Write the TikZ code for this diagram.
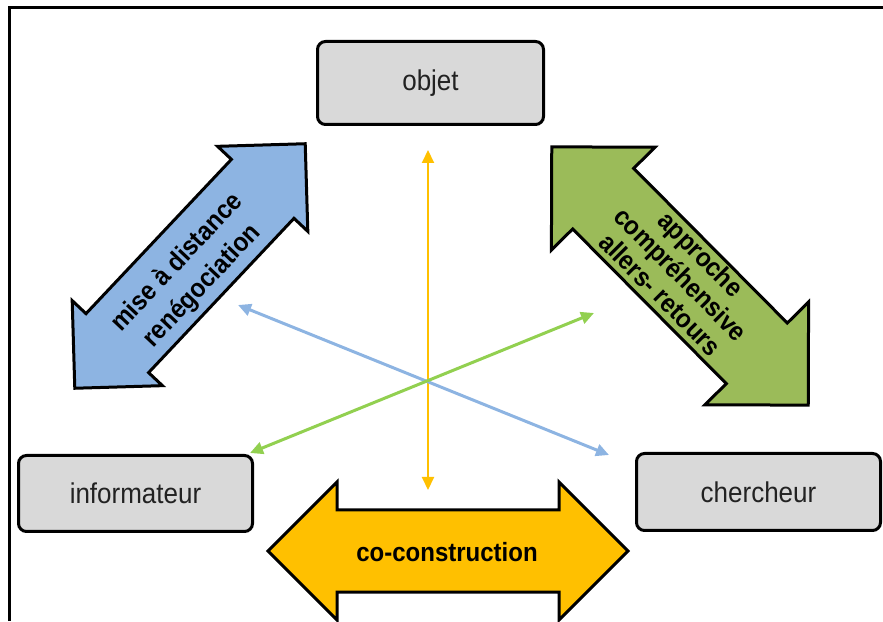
\documentclass[tikz,border=0pt]{standalone}
\usepackage{fontspec}
\setmainfont{Liberation Sans}
\usetikzlibrary{arrows.meta}
\definecolor{boxgray}{HTML}{D9D9D9}
\definecolor{txtgray}{HTML}{222222}
\definecolor{bluefill}{HTML}{8DB4E2}
\definecolor{greenfill}{HTML}{9BBB59}
\definecolor{yellowfill}{HTML}{FFC000}
\definecolor{blueline}{HTML}{8DB4E2}
\definecolor{greenline}{HTML}{92D050}
\newcommand{\myblockarrow}[8]{%
  \begin{scope}[shift={(#1,#2)},rotate=#3]
    \pgfmathsetmacro\myba{#4-#5}
    \draw[blockarr,fill=#8] (#4,0) -- (\myba,#6) -- (\myba,#7) -- (-\myba,#7) -- (-\myba,#6)
      -- (-#4,0) -- (-\myba,-#6) -- (-\myba,-#7) -- (\myba,-#7) -- (\myba,-#6) -- cycle;
  \end{scope}}
\tikzset{
  blockarr/.style={draw=black, line width=3pt, line join=miter},
  box/.style={draw=black, line width=3pt, fill=boxgray, rounded corners=8pt, inner sep=0pt,
    text=txtgray},
  boxtext/.style={font=\fontsize{26}{30}\selectfont, yscale=1.1},
  arrtext/.style={font=\bfseries\fontsize{24}{31}\selectfont, align=center, text=black},
  thinarr/.style={{Triangle[length=13pt,width=12pt]}-{Triangle[length=13pt,width=12pt]}},
}
\begin{document}
\begin{tikzpicture}[x=1pt,y=1pt]
\useasboundingbox (0,0) rectangle (883,621);
% frame
\draw[line width=3pt] (9,0) -- (9,613.5) -- (883,613.5);
% boxes
\node[box, minimum width=226pt, minimum height=83pt] (objet) at (430.5,538) {};
\node[box, minimum width=234pt, minimum height=76pt] (informateur) at (135.5,127.5) {};
\node[box, minimum width=244pt, minimum height=77pt] (chercheur) at (758.5,129) {};
\node[boxtext, text=txtgray] (objettxt) at (objet) {objet};
\node[boxtext, text=txtgray] (informateurtxt) at (informateur) {informateur};
\node[boxtext, text=txtgray] (chercheurtxt) at (chercheur) {chercheur};
% block arrows
\myblockarrow{190}{355}{46.7}{168}{62}{62}{43}{bluefill}
\myblockarrow{680}{345}{-45.2}{182}{73}{73}{43}{greenfill}
\myblockarrow{448}{70}{0}{180}{69}{69}{41}{yellowfill}
\node[arrtext, rotate=46.7, yscale=1.1] (bluetxt) at (190,346.5) {mise à distance\\renégociation};
\node[arrtext, rotate=-45.2, yscale=1.1, font=\bfseries\fontsize{24}{26}\selectfont] (greentxt) at (681,347) {approche\\compréhensive\\allers- retours};
\node[arrtext, yscale=1.1] (yellowtxt) at (447,69) {co-construction};
% thin arrows
\coordinate (yT) at (428,471);
\coordinate (yB) at (428,131);
\coordinate (bA) at (238,316);
\coordinate (bB) at (609,166);
\coordinate (gA) at (250,168);
\coordinate (gB) at (594,308);
\draw[thinarr, draw=yellowfill, fill=yellowfill, line width=2pt] (yB) -- (yT);
\draw[thinarr, draw=blueline, fill=blueline, line width=3pt] (bA) -- (bB);
\draw[thinarr, draw=greenline, fill=greenline, line width=3pt] (gA) -- (gB);
\end{tikzpicture}
\end{document}
